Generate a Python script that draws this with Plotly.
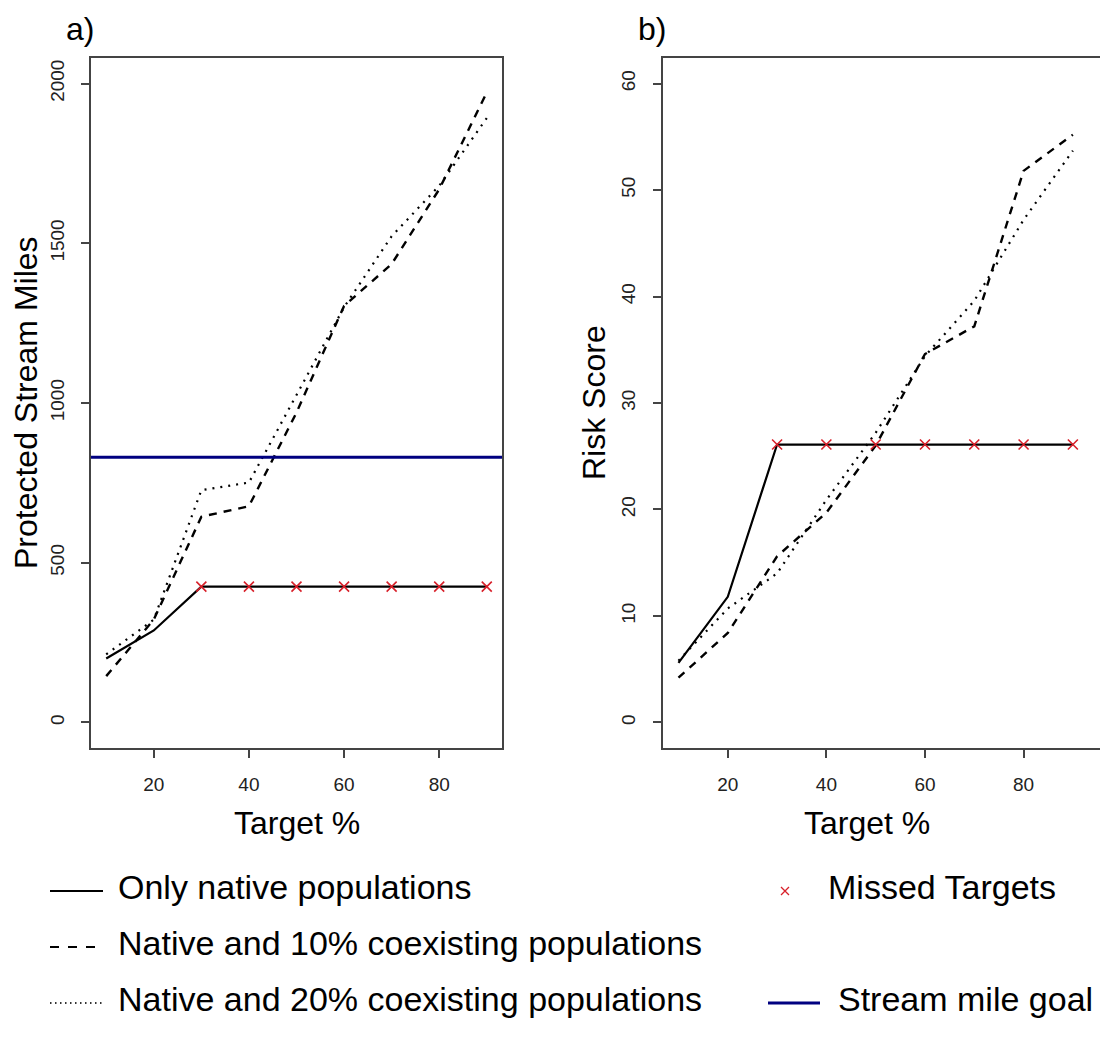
import plotly.graph_objects as go

# ---------------- data ----------------
target = [10, 20, 30, 40, 50, 60, 70, 80, 90]
miles_native = [200, 288, 425, 425, 425, 425, 425, 425, 425]
miles_10 = [145, 322, 644, 677, 970, 1304, 1435, 1669, 1972]
miles_20 = [213, 322, 727, 751, 1025, 1300, 1522, 1680, 1892]
stream_mile_goal = 830
risk_native = [5.6, 11.8, 26.1, 26.1, 26.1, 26.1, 26.1, 26.1, 26.1]
risk_10 = [4.2, 8.4, 15.6, 19.7, 26.0, 34.6, 37.2, 51.8, 55.2]
risk_20 = [5.8, 10.7, 14.0, 20.9, 27.2, 34.4, 39.6, 47.2, 53.7]
missed = [False, False, True, True, True, True, True, True, True]

x_ticks = [20, 40, 60, 80]
miles_ticks = [0, 500, 1000, 1500, 2000]
risk_ticks = [0, 10, 20, 30, 40, 50, 60]

legend_labels = ["Only native populations",
                 "Native and 10% coexisting populations",
                 "Native and 20% coexisting populations",
                 "Missed Targets", "Stream mile goal"]

# ---------------- style ----------------
W, H = 1100, 1044
FONT = "Liberation Sans, Arial, sans-serif"
AX = "#444444"
RED = "#d8202a"
NAVY = "#000080"
DASH = "8px,7px"
DOT = "2px,6px"
CLEAR = "rgba(0,0,0,0)"

def px(xp):
    return xp / W

def py(yp):
    return 1 - yp / H

fig = go.Figure()

def add_panel(xa, ya, s_native, s_10, s_20):
    fig.add_trace(go.Scatter(x=target, y=s_native, mode="lines", xaxis=xa, yaxis=ya,
                             line=dict(color="black", width=2.2), showlegend=False))
    fig.add_trace(go.Scatter(x=target, y=s_10, mode="lines", xaxis=xa, yaxis=ya,
                             line=dict(color="black", width=2.4, dash=DASH), showlegend=False))
    fig.add_trace(go.Scatter(x=target, y=s_20, mode="lines", xaxis=xa, yaxis=ya,
                             line=dict(color="black", width=2.2, dash=DOT), showlegend=False))
    mx = [t for t, m in zip(target, missed) if m]
    my = [v for v, m in zip(s_native, missed) if m]
    fig.add_trace(go.Scatter(x=mx, y=my, mode="markers", xaxis=xa, yaxis=ya,
                             marker=dict(symbol="x-thin", size=10, color=RED,
                                         line=dict(color=RED, width=1.6)),
                             showlegend=False))

add_panel("x", "y", miles_native, miles_10, miles_20)
add_panel("x2", "y2", risk_native, risk_10, risk_20)

# stream mile goal
fig.add_shape(type="line", xref="x domain", yref="y", x0=0, x1=1,
              y0=stream_mile_goal, y1=stream_mile_goal,
              line=dict(color=NAVY, width=3))

# ---------------- axes ----------------
y_top, y_bot = 58, 748
common_x = dict(showgrid=False, zeroline=False, showline=True, linecolor=AX, linewidth=1.5,
                mirror=True, ticks="outside", ticklen=8, tickcolor=AX, tickwidth=1.5,
                tickvals=x_ticks, tickfont=dict(family=FONT, size=19, color="#222"),
                ticklabelstandoff=10)
common_y = dict(showgrid=False, zeroline=False, showline=True, linecolor=AX, linewidth=1.5,
                ticks="outside", ticklen=8, tickcolor=AX, tickwidth=1.5, tickangle=-90,
                tickfont=dict(family=FONT, size=19, color="#222"), ticklabelstandoff=10)

fig.update_layout(
    width=W, height=H, margin=dict(l=0, r=0, t=0, b=0),
    paper_bgcolor="white", plot_bgcolor=CLEAR, showlegend=False,
    xaxis=dict(domain=[px(91), px(502)], range=[6.8, 93.2], anchor="y", **common_x),
    yaxis=dict(domain=[py(y_bot), py(y_top)], range=[-80, 2080], anchor="x",
               tickvals=miles_ticks, mirror=True, **common_y),
    xaxis2=dict(domain=[px(662.7), 1], range=[6.8, 95.5], anchor="y2", **common_x),
    yaxis2=dict(domain=[py(y_bot), py(y_top)], range=[-2.4, 62.4], anchor="x2",
                tickvals=risk_ticks, mirror=False, **common_y),
    xaxis3=dict(domain=[0, 1], range=[0, W], visible=False, anchor="y3", fixedrange=True),
    yaxis3=dict(domain=[0, 1], range=[H, 0], visible=False, anchor="x3", fixedrange=True),
)

# ---------------- titles ----------------
TF = dict(family=FONT, size=32, color="black")
ann = []
ann.append(dict(text="a)", x=px(80), y=py(29), xref="paper", yref="paper",
                showarrow=False, font=TF, xanchor="center", yanchor="middle"))
ann.append(dict(text="b)", x=px(652), y=py(29), xref="paper", yref="paper",
                showarrow=False, font=TF, xanchor="center", yanchor="middle"))
ann.append(dict(text="Target %", x=px(296.5), y=py(823), xref="paper", yref="paper",
                showarrow=False, font=TF, xanchor="center", yanchor="middle"))
ann.append(dict(text="Target %", x=px(867), y=py(823), xref="paper", yref="paper",
                showarrow=False, font=TF, xanchor="center", yanchor="middle"))
ann.append(dict(text="Protected Stream Miles", x=px(26), y=py(403), xref="paper", yref="paper",
                showarrow=False, font=TF, textangle=-90, xanchor="center", yanchor="middle"))
ann.append(dict(text="Risk Score", x=px(594), y=py(403), xref="paper", yref="paper",
                showarrow=False, font=TF, textangle=-90, xanchor="center", yanchor="middle"))

# ---------------- legend (drawn manually) ----------------
LF = dict(family=FONT, size=34, color="black")
rows = [887, 943, 999]
samples = [("black", None, 2), ("black", "9px,9px", 2), ("#333333", "1.5px,3.5px", 2)]
for (col, dsh, w), yy in zip(samples, rows):
    fig.add_trace(go.Scatter(x=[50, 103], y=[yy + 4, yy + 4], mode="lines", xaxis="x3", yaxis="y3",
                             line=dict(color=col, width=w, dash=dsh), showlegend=False,
                             hoverinfo="skip"))
for lbl, yy in zip(legend_labels[:3], rows):
    ann.append(dict(text=lbl, x=px(116), y=py(yy), xref="paper", yref="paper",
                    showarrow=False, font=LF, xanchor="left", yanchor="middle"))
fig.add_trace(go.Scatter(x=[785], y=[rows[0] + 4], mode="markers", xaxis="x3", yaxis="y3",
                         marker=dict(symbol="x-thin", size=8, color=RED,
                                     line=dict(color=RED, width=1.3)),
                         showlegend=False, hoverinfo="skip"))
ann.append(dict(text=legend_labels[3], x=px(826), y=py(rows[0]), xref="paper", yref="paper",
                showarrow=False, font=LF, xanchor="left", yanchor="middle"))
fig.add_trace(go.Scatter(x=[768, 820], y=[rows[2] + 4, rows[2] + 4], mode="lines", xaxis="x3",
                         yaxis="y3", line=dict(color=NAVY, width=3), showlegend=False,
                         hoverinfo="skip"))
ann.append(dict(text=legend_labels[4], x=px(836), y=py(rows[2]), xref="paper", yref="paper",
                showarrow=False, font=LF, xanchor="left", yanchor="middle"))

fig.update_layout(annotations=ann)
fig.write_html("out.html")
